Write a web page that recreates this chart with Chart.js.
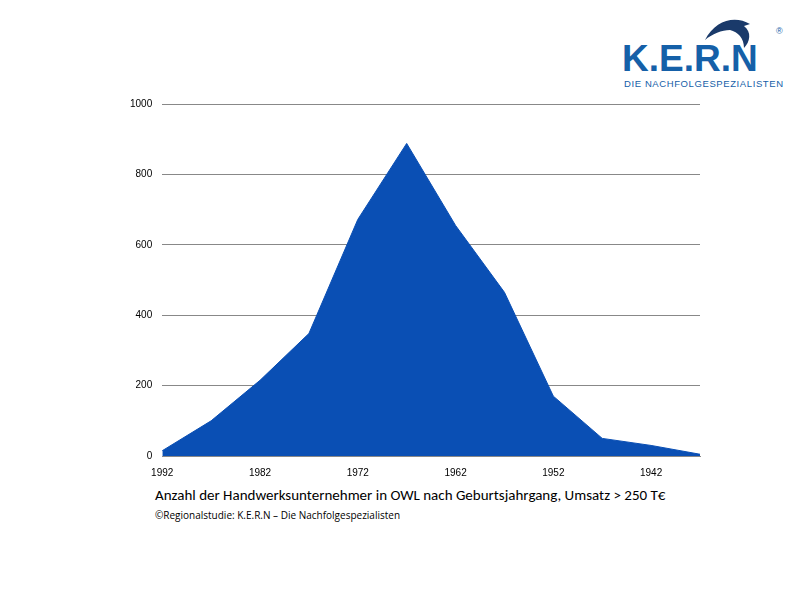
<!DOCTYPE html>
<html>
<head>
<meta charset="utf-8">
<script src="https://cdn.jsdelivr.net/npm/chart.js@4"></script>
<style>
  body { margin: 0; background: #fff; width: 800px; height: 602px; position: relative; font-family: "Liberation Sans", Arial, sans-serif; overflow: hidden; }
  #wrap { position: absolute; left: 120px; top: 88px; width: 583px; height: 394px; }
  .logo { position: absolute; left: 622px; top: 38px; color: #1560a8; font-weight: bold; font-size: 37px; font-family: "Liberation Sans", Arial, sans-serif; }
  .logo-sub { position: absolute; left: 624px; top: 78px; color: #1560a8; font-size: 9.5px; letter-spacing: 0.6px; }
  .reg { position: absolute; left: 776px; top: 26px; color: #1560a8; font-size: 9px; }
  .title { position: absolute; left: 155px; top: 486px; font-family: Calibri, Carlito, "Open Sans", sans-serif; font-size: 15px; color: #000; }
  .src { position: absolute; left: 155px; top: 508px; font-family: "Open Sans", sans-serif; font-size: 10px; color: #000; }
</style>
</head>
<body>
<svg style="position:absolute;left:700px;top:10px" width="60" height="40" viewBox="0 0 60 40">
  <path d="M5 30 C15 10, 35 5, 50 14 L44 16 C52 22, 50 32, 44 38 C44 28, 38 22, 30 20 C22 20, 12 24, 5 30 Z" fill="#1a3a6a"/>
</svg>
<div class="logo">K.E.R.N</div>
<div class="reg">®</div>
<div class="logo-sub">DIE NACHFOLGESPEZIALISTEN</div>
<div id="wrap"><canvas id="c"></canvas></div>
<div class="title">Anzahl der Handwerksunternehmer in OWL nach Geburtsjahrgang, Umsatz &gt; 250 T€</div>
<div class="src">©Regionalstudie: K.E.R.N – Die Nachfolgespezialisten</div>
<script>
const years  = [1992, 1987, 1982, 1977, 1972, 1967, 1962, 1957, 1952, 1947, 1942, 1937];
const counts = [15, 100, 215, 348, 672, 888, 655, 465, 170, 50, 30, 5];
const shownYears = [1992, 1982, 1972, 1962, 1952, 1942];

new Chart(document.getElementById("c"), {
  type: "line",
  data: {
    labels: years,
    datasets: [{
      data: counts,
      fill: "origin",
      backgroundColor: "#0a4fb4",
      borderColor: "#0a4fb4",
      borderWidth: 1,
      pointRadius: 0,
      tension: 0
    }]
  },
  options: {
    responsive: true,
    maintainAspectRatio: false,
    animation: false,
    plugins: { legend: { display: false }, tooltip: { enabled: false } },
    scales: {
      x: {
        offset: false,
        grid: { display: false },
        border: { color: "#888" },
        ticks: {
          autoSkip: false, maxRotation: 0, color: "#000",
          font: { family: "Liberation Sans", size: 10 },
          callback: (v, i) => shownYears.includes(years[i]) ? String(years[i]) : ""
        }
      },
      y: {
        min: 0, max: 1000,
        ticks: { stepSize: 200, color: "#000", font: { family: "Liberation Sans", size: 10 }, padding: 10,
          callback: v => String(v) },
        grid: { color: "#888", drawTicks: false },
        border: { display: false }
      }
    }
  }
});
</script>
</body>
</html>
